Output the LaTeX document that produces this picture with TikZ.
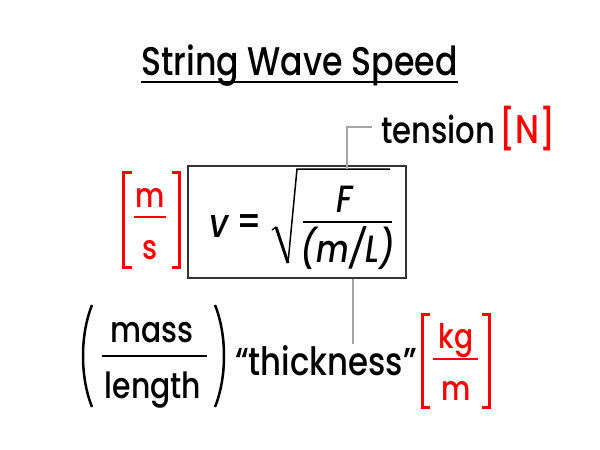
\documentclass[tikz,border=0pt]{standalone}
\usepackage{fontspec}
\setmainfont{Poppins Medium}[FakeStretch=0.83,ItalicFont={Poppins Medium Italic}]
\begin{document}
\begin{tikzpicture}[x=1pt,y=-1pt,
  txt/.style={inner sep=0pt,outer sep=0pt,anchor=base,font=\fontsize{40}{46}\selectfont},
  unit/.style={txt,text=red,font=\fontsize{34}{40}\selectfont},
  redbr/.style={draw=red,line width=3pt},
  redfr/.style={draw=red,line width=2pt},
  blackfr/.style={draw=black,line width=1.5pt},
  leader/.style={draw=black!35,line width=1.5pt},
  paren/.style={draw=black,line width=2.5pt}]
\useasboundingbox (0,0) rectangle (600,450);
\fill[white] (0,0) rectangle (600,450);
% title
\node[txt] (title) at (299.5,75) {String Wave Speed};
\draw[line width=1.8pt] ([yshift=-7pt]title.base west) -- ([yshift=-7pt]title.base east);
% box
\node[draw=black!80,line width=1.5pt,minimum width=218pt,minimum height=112pt,inner sep=0pt] (box) at (297,222) {};
\node[txt,font=\fontsize{40}{46}\selectfont\itshape] (v) at (219,237) {v};
\node[txt,font=\fontsize{40}{46}\selectfont] (eq) at (249,235) {=};
\coordinate (r0) at (272,230);
\coordinate (r1) at (276,227);
\coordinate (r2) at (288,263);
\coordinate (r3) at (297,169);
\coordinate (r4) at (390,169);
\draw[line width=1.4pt,line join=miter] (r0) -- (r1);
\draw[line width=3pt] (r1) -- (r2);
\draw[line width=1.5pt,line join=miter] (r2) -- (r3) -- (r4);
\node[txt,font=\fontsize{38}{44}\selectfont\itshape] (F) at (345,212) {F};
\draw[blackfr] (303,222) -- (392,222);
\node[txt,font=\fontsize{38}{44}\selectfont\itshape] (mL) at (348,262) {(m/L)};
% m/s unit
\draw[redbr] (132,172) -- (123,172) -- (123,267) -- (132,267);
\draw[redbr] (172,172) -- (179,172) -- (179,267) -- (172,267);
\node[unit] (um) at (150,207) {m};
\draw[redfr] (134,217) -- (166,217);
\node[unit] (us) at (150,259) {s};
% tension
\node[txt,anchor=base west,font=\fontsize{37}{44}\selectfont] (tension) at (381,143) {tension};
\node[txt,anchor=base east,text=red] (uN) at (556,143) {[N]};
\coordinate (tc) at (372,127);
\coordinate (fc) at (347,169);
\draw[leader] (tc) -| (fc);
% mass/length
\draw[paren] (92,305) .. controls (80,335) and (80,377) .. (92,407);
\draw[paren] (215,305) .. controls (227,335) and (227,377) .. (215,407);
\node[txt,font=\fontsize{36}{44}\selectfont] (mass) at (152,342) {mass};
\draw[blackfr] (102,356) -- (207,356);
\node[txt,font=\fontsize{36}{44}\selectfont] (length) at (153,398) {length};
\node[txt,anchor=base west,font=\fontsize{39}{46}\selectfont] (thick) at (235,375) {“thickness”};
\coordinate (tk) at (353,344);
\draw[leader] (box.south -| tk) -- (tk);
% kg/m unit
\draw[redbr] (430,314) -- (422,314) -- (422,407) -- (430,407);
\draw[redbr] (482,314) -- (489,314) -- (489,407) -- (482,407);
\node[unit] (ukg) at (456,348) {kg};
\draw[redfr] (433,359) -- (478,359);
\node[unit] (um2) at (456,400) {m};
\end{tikzpicture}
\end{document}
